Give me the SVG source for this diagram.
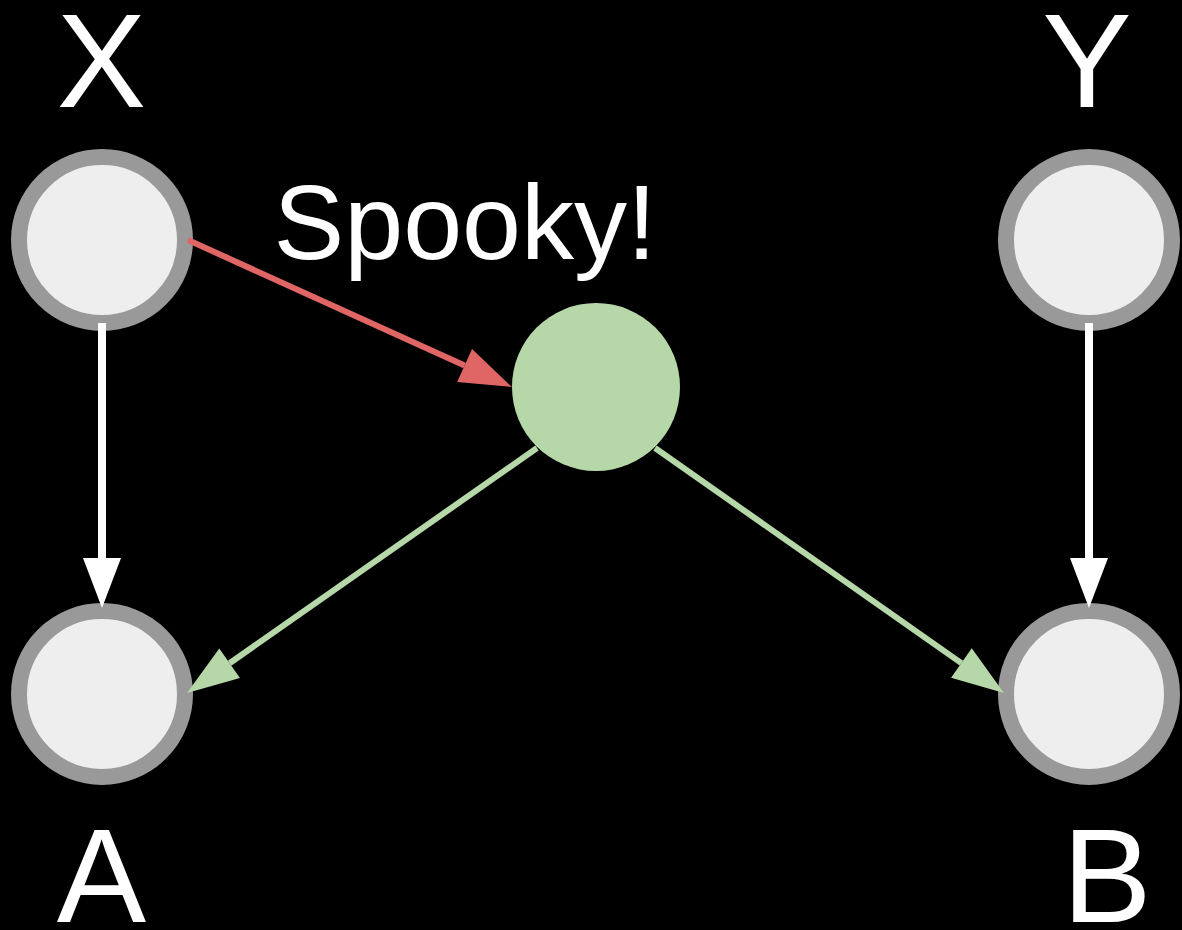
<svg xmlns="http://www.w3.org/2000/svg" width="1182" height="930" viewBox="0 0 1182 930">
<style>
.node{fill:#eeeeee;stroke:#999999;stroke-width:16}
.mid{fill:#b6d7a8}
.lbl{font-family:"Liberation Sans",Arial,sans-serif;fill:#ffffff;text-anchor:middle}
.w{stroke:#ffffff;stroke-width:8;fill:none}
.r{stroke:#e06666;stroke-width:6;fill:none}
.g{stroke:#b6d7a8;stroke-width:6;fill:none}
</style>
<defs>
<marker id="aw" markerUnits="userSpaceOnUse" markerWidth="52" markerHeight="40" refX="0" refY="19" orient="auto" overflow="visible"><path d="M0,0 L50,19 L0,38 Z" fill="#ffffff"/></marker>
<marker id="ar" markerUnits="userSpaceOnUse" markerWidth="52" markerHeight="40" refX="0" refY="18" orient="auto" overflow="visible"><path d="M0,0 L52,18 L0,36 Z" fill="#e06666"/></marker>
<marker id="ag" markerUnits="userSpaceOnUse" markerWidth="52" markerHeight="40" refX="0" refY="18" orient="auto" overflow="visible"><path d="M0,0 L52,18 L0,36 Z" fill="#b6d7a8"/></marker>
</defs>
<rect width="1182" height="930" fill="#000000"/>
<g id="node-X"><circle class="node" cx="102" cy="240" r="83"/><text class="lbl" x="101.5" y="107" font-size="134">X</text></g>
<g id="node-Y"><circle class="node" cx="1089" cy="240" r="83"/><text class="lbl" x="1087" y="107" font-size="134">Y</text></g>
<g id="node-A"><circle class="node" cx="102" cy="694" r="83"/><text class="lbl" x="101.5" y="922" font-size="134">A</text></g>
<g id="node-B"><circle class="node" cx="1089" cy="694" r="83"/><text class="lbl" x="1107" y="922" font-size="134">B</text></g>
<g id="node-mid"><circle class="mid" cx="596" cy="387" r="84"/></g>
<g id="label-spooky"><text class="lbl" x="465" y="259" font-size="106">Spooky!</text></g>
<g id="connectors">
<line class="w" x1="102" y1="323" x2="102" y2="558" marker-end="url(#aw)"/>
<line class="w" x1="1089" y1="323" x2="1089" y2="558" marker-end="url(#aw)"/>
<line class="r" x1="188" y1="240" x2="464.6" y2="365.5" marker-end="url(#ar)"/>
<line class="g" x1="537" y1="448" x2="229.6" y2="663.2" marker-end="url(#ag)"/>
<line class="g" x1="655" y1="448" x2="961.4" y2="663.1" marker-end="url(#ag)"/>
</g>
</svg>
